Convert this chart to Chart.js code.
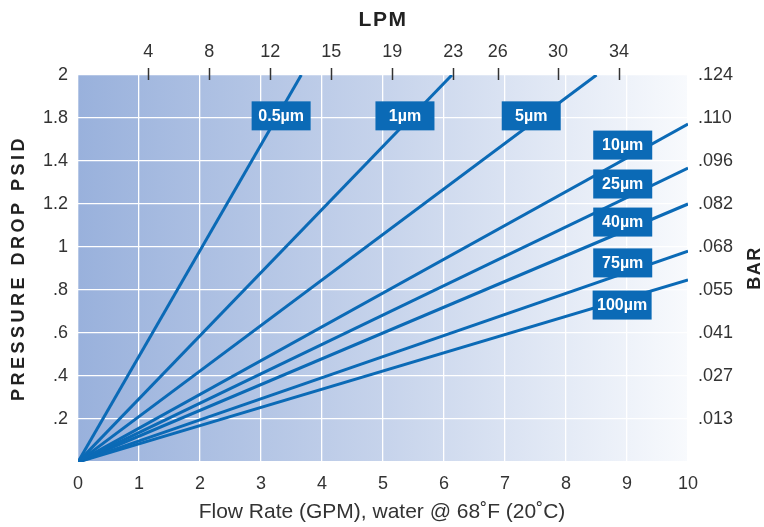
<!DOCTYPE html>
<html lang="en">
<head>
  <meta charset="UTF-8">
  <title>Pressure Drop</title>
  <script src="https://cdn.jsdelivr.net/npm/chart.js"></script>
  <style>
    body { margin: 0; background: #fff; }
    .wrap { width: 764px; height: 527px; }
  </style>
</head>
<body>
<div class="wrap"><canvas id="chart" width="764" height="527"></canvas></div>
<script>
  // grades and where each line ends (GPM, PSID on the linear grid)
  const grades = ['0.5\u00b5m', '1\u00b5m', '5\u00b5m', '10\u00b5m', '25\u00b5m', '40\u00b5m', '75\u00b5m', '100\u00b5m'];
  const endGpm = [3.66, 6.13, 8.5, 10, 10, 10, 10, 10];
  const endPsi = [1.8, 1.8, 1.8, 1.572, 1.367, 1.2, 0.981, 0.847];
  // label box positions (GPM, PSID)
  const labelGpm = [3.33, 5.36, 7.43, 8.93, 8.93, 8.93, 8.93, 8.92];
  const labelPsi = [1.61, 1.61, 1.61, 1.474, 1.293, 1.116, 0.926, 0.730];

  // tick labels as printed
  const psiLabels = ['', '.2', '.4', '.6', '.8', '1', '1.2', '1.4', '1.8', '2'];
  const barLabels = ['', '.013', '.027', '.041', '.055', '.068', '.082', '.096', '.110', '.124'];
  const lpmPos = [1.15, 2.15, 3.15, 4.15, 5.15, 6.15, 6.88, 7.87, 8.87];
  const lpmLabels = ['4', '8', '12', '15', '19', '23', '26', '30', '34'];

  const blue = '#0b6ab6';
  const tickFont = { family: "'Liberation Sans', Arial, sans-serif", size: 18 };

  const bgPlugin = {
    id: 'bg',
    beforeDraw(chart) {
      const { ctx, chartArea: a } = chart;
      const g = ctx.createLinearGradient(a.left, 0, a.right, 0);
      g.addColorStop(0, '#99b1dc');
      g.addColorStop(0.5, '#c6d3eb');
      g.addColorStop(1, '#f8fafd');
      ctx.save();
      ctx.fillStyle = g;
      ctx.fillRect(a.left, a.top, a.right - a.left, a.bottom - a.top);
      ctx.restore();
    }
  };

  const extrasPlugin = {
    id: 'extras',
    afterDatasetsDraw(chart) {
      const { ctx, chartArea: a } = chart;
      const xs = chart.scales.x, ys = chart.scales.y, top = chart.scales.xTop;
      ctx.save();
      // LPM tick marks crossing the top edge
      ctx.strokeStyle = '#333';
      ctx.lineWidth = 1.5;
      top.ticks.forEach(t => {
        const px = Math.round(top.getPixelForValue(t.value)) + 0.5;
        ctx.beginPath();
        ctx.moveTo(px, a.top - 7);
        ctx.lineTo(px, a.top + 5);
        ctx.stroke();
      });
      // grade labels
      ctx.font = "bold 16px 'Liberation Sans', Arial, sans-serif";
      ctx.textAlign = 'center';
      ctx.textBaseline = 'middle';
      grades.forEach((g, i) => {
        const px = xs.getPixelForValue(labelGpm[i]);
        const py = ys.getPixelForValue(labelPsi[i]);
        ctx.fillStyle = blue;
        ctx.fillRect(px - 29.5, py - 14.5, 59, 29);
        ctx.fillStyle = '#fff';
        ctx.fillText(g, px, py + 1);
      });
      ctx.restore();
    },
    afterDraw(chart) {
      const { ctx } = chart;
      ctx.save();
      ctx.fillStyle = '#222';
      ctx.textAlign = 'center';
      ctx.textBaseline = 'middle';
      ctx.font = "bold 21px 'Liberation Sans', Arial, sans-serif";
      ctx.letterSpacing = '1.5px';
      ctx.fillText('LPM', 383, 20);
      ctx.fillStyle = '#333';
      ctx.letterSpacing = '0px';
      ctx.font = "21px 'Liberation Sans', Arial, sans-serif";
      ctx.fillText('Flow Rate (GPM), water @ 68\u02daF (20\u02daC)', 382, 512);
      ctx.fillStyle = '#222';
      ctx.font = "bold 18px 'Liberation Sans', Arial, sans-serif";
      ctx.letterSpacing = '3.5px';
      ctx.translate(19, 268);
      ctx.rotate(-Math.PI / 2);
      ctx.fillText('PRESSURE DROP PSID', 0, 0);
      ctx.setTransform(1, 0, 0, 1, 0, 0);
      ctx.letterSpacing = '1.5px';
      ctx.translate(755, 268);
      ctx.rotate(-Math.PI / 2);
      ctx.fillText('BAR', 0, 0);
      ctx.restore();
    }
  };

  const datasets = grades.map((g, i) => ({
    label: g,
    data: [{ x: 0, y: 0 }, { x: endGpm[i], y: endPsi[i] }],
    borderColor: blue,
    borderWidth: 3,
    pointRadius: 0,
    fill: false
  }));

  new Chart(document.getElementById('chart'), {
    type: 'line',
    data: { datasets },
    options: {
      responsive: false,
      animation: false,
      layout: { padding: 0 },
      plugins: { legend: { display: false }, tooltip: { enabled: false } },
      scales: {
        x: {
          type: 'linear', position: 'bottom', min: 0, max: 10,
          ticks: { stepSize: 1, color: '#333', font: tickFont, padding: 11 },
          grid: { color: '#ffffff', lineWidth: 1.3, drawTicks: false },
          border: { display: false },
          afterFit: s => { s.height = 65; }
        },
        xTop: {
          type: 'linear', position: 'top', min: 0, max: 10,
          afterBuildTicks: s => { s.ticks = lpmPos.map(v => ({ value: v })); },
          ticks: { color: '#333', font: tickFont, padding: 12, callback: (v, i) => lpmLabels[i] },
          grid: { display: false, drawTicks: false },
          border: { display: false },
          afterFit: s => { s.height = 75; }
        },
        y: {
          type: 'linear', position: 'left', min: 0, max: 1.8,
          ticks: { stepSize: 0.2, color: '#333', font: tickFont, padding: 10, callback: (v, i) => psiLabels[i] },
          grid: { color: '#ffffff', lineWidth: 1.3, drawTicks: false },
          border: { display: false },
          afterFit: s => { s.width = 78; }
        },
        yRight: {
          type: 'linear', position: 'right', min: 0, max: 1.8,
          ticks: { stepSize: 0.2, color: '#333', font: tickFont, padding: 10, callback: (v, i) => barLabels[i] },
          grid: { display: false, drawTicks: false },
          border: { display: false },
          afterFit: s => { s.width = 76; }
        }
      }
    },
    plugins: [bgPlugin, extrasPlugin]
  });
</script>
</body>
</html>
